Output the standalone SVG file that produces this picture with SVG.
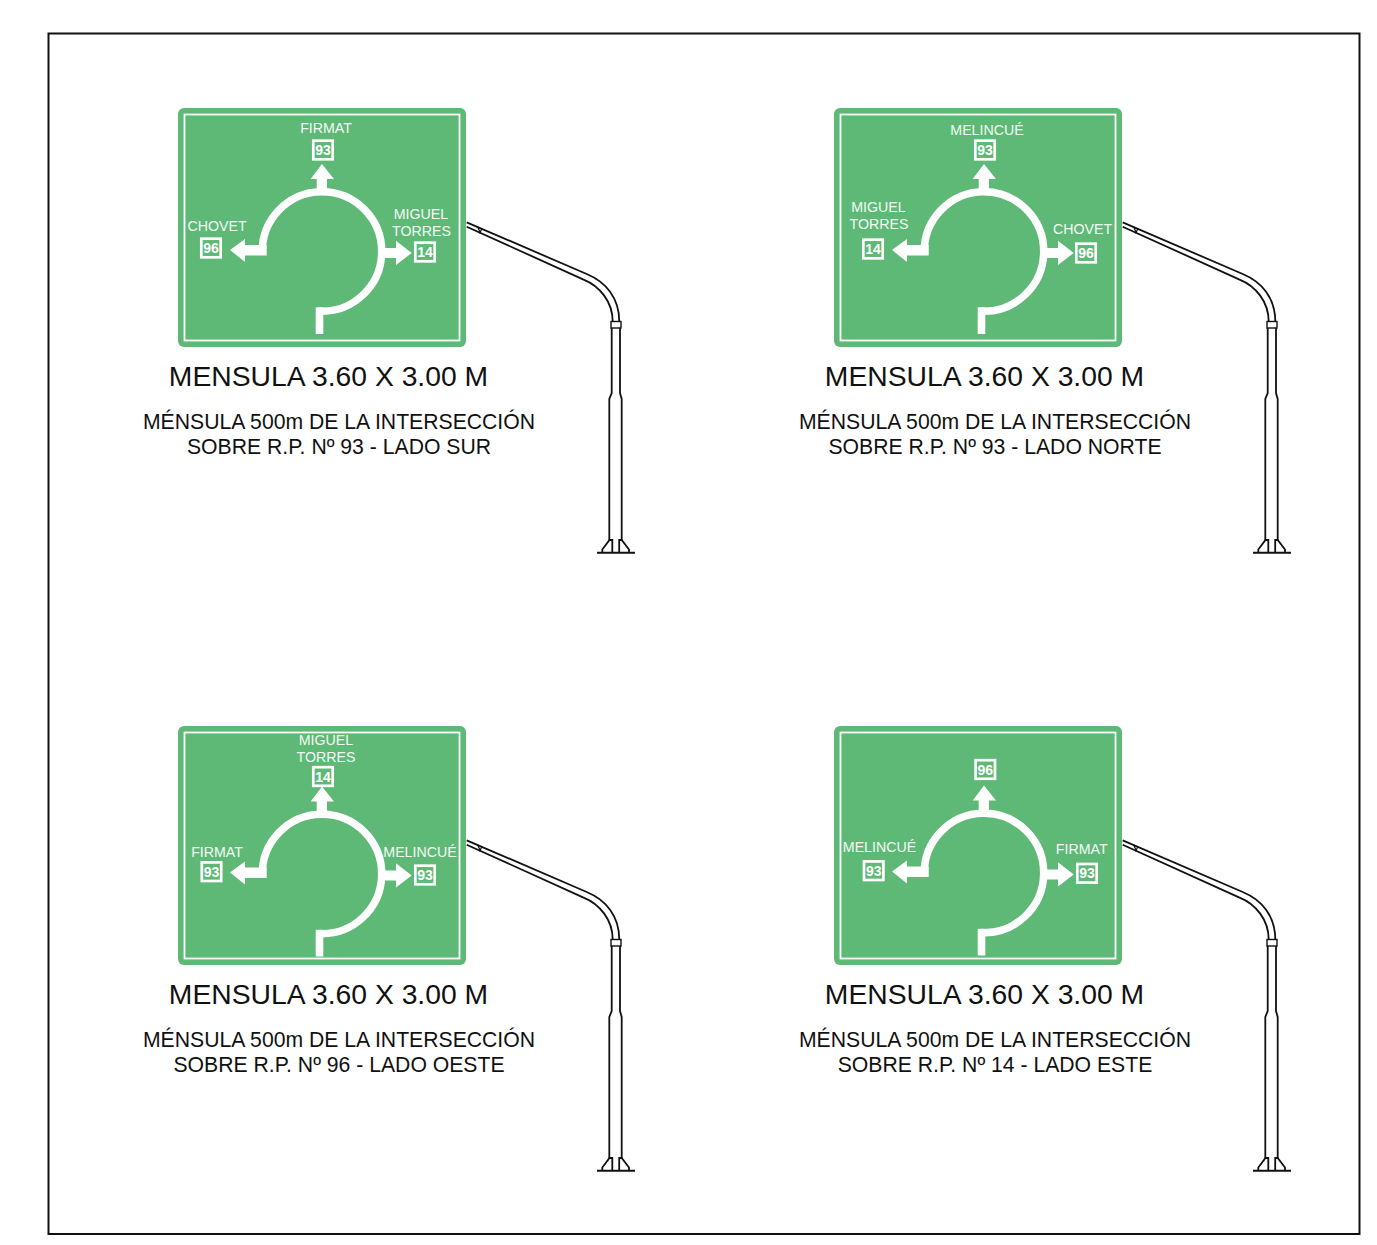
<svg xmlns="http://www.w3.org/2000/svg" xmlns:xlink="http://www.w3.org/1999/xlink" width="1377" height="1245" viewBox="0 0 1377 1245">
<style>
text{font-family:"Liberation Sans",Arial,sans-serif;text-anchor:middle}
.lb{font-size:14.2px;fill:#f4faf5}
.no{font-size:14px;font-weight:bold;fill:#fff}
.ti{font-size:28.3px;fill:#111}
.ca{font-size:21.2px;fill:#111}
.ln{fill:none;stroke:#111;stroke-width:1.8}
</style>
<defs>
<g id="panel">
<rect x="178" y="108" width="288" height="239" rx="6" fill="#5DB975"/>
<rect x="184.500" y="114.500" width="275" height="226" fill="none" stroke="#fff" stroke-width="1.800"/>
</g>
<g id="rotary">
<path d="M262.350 254A59.700 59.700 0 1 1 319 311.100" fill="none" stroke="#fff" stroke-width="7.500"/>
<rect x="315.700" y="307.300" width="7.600" height="26.700" fill="#fff"/>
<path d="M266.700 245H245V239L230 250L245 262V255.500H266.700Z" fill="#fff"/>
<path d="M316.700 192V179H310.700L322 164L334 179H327V192Z" fill="#fff"/>
<path d="M382 248H396V240.700L411.700 253L396 265V258H382Z" fill="#fff"/>
</g>
<g id="shield"><rect x="-9.700" y="-9.300" width="19.400" height="18.600" fill="none" stroke="#fff" stroke-width="2.700"/></g>
<g id="post" class="ln">
<path d="M466.700 222.300L586.700 274C606 282 619.300 298 619.300 321.500"/>
<path d="M466.700 226.700L583 279.300C600 286 612.700 302 612.700 321.500"/>
<path d="M477.500 226.500L480 232M482 228.500L479.500 233.500" stroke-width="1.200"/>
<rect x="611" y="321.500" width="10" height="6.500" stroke-width="1.400"/>
<path d="M611.700 328V393L609.300 399V541M620 328V393L621.700 399V541"/>
<path d="M597 552.700H635" stroke-width="2"/>
<path d="M602.300 552V549.500L609.500 540H612.300V552M619.200 552V540H621.700L629 549.500V552"/>
</g>
</defs>
<g id="frame"><rect x="48.500" y="33.500" width="1311" height="1200.500" fill="#fff" stroke="#111" stroke-width="2"/></g>
<g id="connectors"></g>
<g id="sign-sur">
<use href="#panel"/><use href="#rotary"/><use href="#post"/>
<text class="lb" x="326" y="133">FIRMAT</text>
<use href="#shield" x="323" y="150"/><text class="no" x="323" y="155">93</text>
<text class="lb" x="217" y="231">CHOVET</text>
<use href="#shield" x="211" y="248"/><text class="no" x="211" y="253">96</text>
<text class="lb" x="421" y="219">MIGUEL</text><text class="lb" x="421.500" y="236">TORRES</text>
<use href="#shield" x="425" y="252"/><text class="no" x="425" y="257">14</text>
<text class="ti" x="328.500" y="386">MENSULA 3.60 X 3.00 M</text>
<text class="ca" x="339" y="429">MÉNSULA 500m DE LA INTERSECCIÓN</text>
<text class="ca" x="339" y="454">SOBRE R.P. Nº 93 - LADO SUR</text>
</g>
<g id="sign-norte">
<use href="#panel" x="656"/><use href="#rotary" x="662"/><use href="#post" x="656"/>
<text class="lb" x="987" y="135">MELINCUÉ</text>
<use href="#shield" x="985" y="150"/><text class="no" x="985" y="155">93</text>
<text class="lb" x="878.500" y="212">MIGUEL</text><text class="lb" x="879" y="229">TORRES</text>
<use href="#shield" x="873" y="249"/><text class="no" x="873" y="254">14</text>
<text class="lb" x="1082.500" y="234">CHOVET</text>
<use href="#shield" x="1086" y="253"/><text class="no" x="1086" y="258">96</text>
<text class="ti" x="984.500" y="386">MENSULA 3.60 X 3.00 M</text>
<text class="ca" x="995" y="429">MÉNSULA 500m DE LA INTERSECCIÓN</text>
<text class="ca" x="995" y="454">SOBRE R.P. Nº 93 - LADO NORTE</text>
</g>
<g id="sign-oeste">
<use href="#panel" y="618"/><use href="#rotary" y="622.500"/><use href="#post" y="618"/>
<text class="lb" x="326" y="745">MIGUEL</text><text class="lb" x="326" y="762">TORRES</text>
<use href="#shield" x="323" y="776.500"/><text class="no" x="323" y="781.500">14</text>
<text class="lb" x="217" y="857">FIRMAT</text>
<use href="#shield" x="211.500" y="871.700"/><text class="no" x="211.500" y="876.700">93</text>
<text class="lb" x="420" y="857">MELINCUÉ</text>
<use href="#shield" x="425" y="875"/><text class="no" x="425" y="880">93</text>
<text class="ti" x="328.500" y="1004">MENSULA 3.60 X 3.00 M</text>
<text class="ca" x="339" y="1047">MÉNSULA 500m DE LA INTERSECCIÓN</text>
<text class="ca" x="339" y="1072">SOBRE R.P. Nº 96 - LADO OESTE</text>
</g>
<g id="sign-este">
<use href="#panel" x="656" y="618"/><use href="#rotary" x="662" y="621.500"/><use href="#post" x="656" y="618"/>
<use href="#shield" x="985.300" y="769.500"/><text class="no" x="985.300" y="774.500">96</text>
<text class="lb" x="879.500" y="852">MELINCUÉ</text>
<use href="#shield" x="873.700" y="870.700"/><text class="no" x="873.700" y="875.700">93</text>
<text class="lb" x="1081.700" y="854">FIRMAT</text>
<use href="#shield" x="1087" y="873.300"/><text class="no" x="1087" y="878.300">93</text>
<text class="ti" x="984.500" y="1004">MENSULA 3.60 X 3.00 M</text>
<text class="ca" x="995" y="1047">MÉNSULA 500m DE LA INTERSECCIÓN</text>
<text class="ca" x="995" y="1072">SOBRE R.P. Nº 14 - LADO ESTE</text>
</g>
</svg>
